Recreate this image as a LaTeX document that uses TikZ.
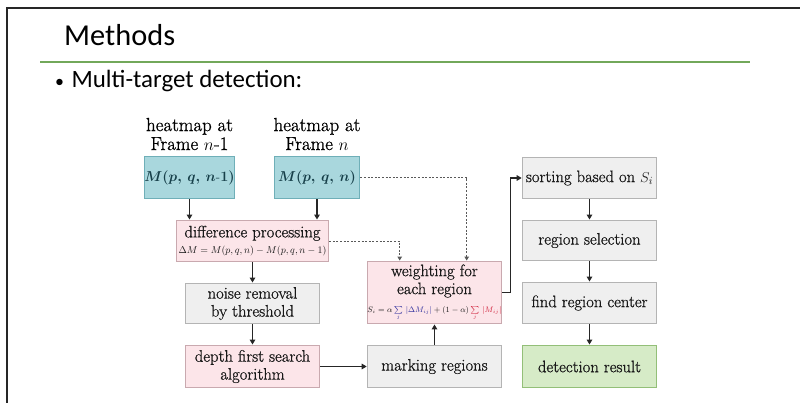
\documentclass[tikz,border=0pt]{standalone}
\usepackage{fontspec}
\usepackage{amsmath}
\newfontfamily\slidefont{Carlito}
\newfontfamily\boxfont{Latin Modern Roman}[FakeBold=0.8]
\usetikzlibrary{arrows.meta,calc}
\definecolor{tealfill}{HTML}{A9D7DD}
\definecolor{tealline}{HTML}{6FAFB8}
\definecolor{tealtext}{HTML}{17404A}
\definecolor{pinkfill}{HTML}{FCE5E9}
\definecolor{pinkline}{HTML}{C9A9AF}
\definecolor{grayfill}{HTML}{EFEFEF}
\definecolor{grayline}{HTML}{B4B4B4}
\definecolor{greenfill}{HTML}{D6EBC7}
\definecolor{greenline}{HTML}{93BF78}
\definecolor{rulegreen}{HTML}{72A85A}
\definecolor{boxtext}{HTML}{181818}
\definecolor{sumblue}{HTML}{2C2C9C}
\definecolor{sumred}{HTML}{D0203A}
\tikzset{
  basebox/.style={draw, line width=1.1bp, inner sep=0pt, align=center,
    text=boxtext, font=\boxfont\fontsize{16.7}{18}\selectfont},
  heatbox/.style={basebox, fill=tealfill, draw=tealline, text=tealtext,
    font=\fontsize{13.3}{16}\selectfont\boldmath},
  pinkbox/.style={basebox, fill=pinkfill, draw=pinkline},
  graybox/.style={basebox, fill=grayfill, draw=grayline},
  greenbox/.style={basebox, fill=greenfill, draw=greenline},
  heatlabel/.style={align=center, inner sep=0pt, text=black,
    font=\boxfont\fontsize{19}{19}\selectfont},
  flow/.style={line width=1.6bp, draw=black!85,
    -{Triangle[length=5bp,width=5.5bp]}},
  hint/.style={line width=1bp, draw=black!65, dash pattern=on 2bp off 1.6bp,
    -{Triangle[length=4bp,width=4.5bp]}}
}
\begin{document}
\begin{tikzpicture}[x=1bp,y=-1bp]
  \useasboundingbox (0,0) rectangle (800,403);
  \fill[white] (0,0) rectangle (800,403);
  % slide frame (top and left edges)
  \draw[line width=1.5bp, black!85] (800,8) -- (7,8) -- (7,403);
  % slide heading
  \node[anchor=base west, inner sep=0pt, font=\slidefont\fontsize{30.5}{32}\selectfont]
    (title) at (64,45) {Methods};
  \draw[line width=2.2bp, rulegreen] (40,62) -- (750,62);
  \node[anchor=base west, inner sep=0pt, font=\slidefont\fontsize{25}{27}\selectfont]
    (bullet) at (55,87) {{\fontsize{18}{18}\selectfont•}\hspace{0.3em}Multi-target detection:};

  % input heatmaps
  \node[heatlabel, anchor=base] (labA) at (189.5,150) {heatmap at\\Frame $n$-1};
  \node[heatlabel, anchor=base] (labB) at (317,150) {heatmap at\\Frame $n$};
  \node[heatbox, minimum width=85, minimum height=43] (mA) at (189.5,177.5)
    {$M(p,\,q,\,n$-$1)$};
  \node[heatbox, minimum width=86, minimum height=43] (mB) at (317,177.5)
    {$M(p,\,q,\,n)$};

  % left column
  \node[pinkbox, minimum width=153, minimum height=42] (diff) at (252.5,241)
    {difference processing\\[-1.5pt]
     {\fontsize{9.9}{10}\selectfont $\Delta M = M(p,q,n) - M(p,q,n-1)$}};
  \node[graybox, minimum width=135, minimum height=41] (noise) at (252.5,303.5)
    {noise removal\\by threshold};
  \node[pinkbox, minimum width=135, minimum height=43] (dfs) at (252.5,366.5)
    {depth first search\\algorithm};

  % middle column
  \node[graybox, minimum width=135, minimum height=43] (mark) at (434.5,366.5)
    {marking regions};
  \node[pinkbox, minimum width=135, minimum height=63] (weight) at (434.5,292.5)
    {weighting for\\each region\\[0pt]
     {\fontsize{7.6}{8}\selectfont
      $S_i = \alpha\,{\color{sumblue}\sum\limits_{j}\,|\Delta M_{ij}|}
       + (1-\alpha)\,{\color{sumred}\sum\limits_{j}\,|M_{ij}|}$}};

  % right column
  \node[graybox, minimum width=135, minimum height=42] (sort) at (589.5,178)
    {sorting based on {\fontsize{15}{18}\selectfont$S_i$}};
  \node[graybox, minimum width=135, minimum height=41] (sel) at (589.5,240.5)
    {region selection};
  \node[graybox, minimum width=135, minimum height=42] (cent) at (589.5,303)
    {find region center};
  \node[greenbox, minimum width=135, minimum height=43] (det) at (589.5,366.5)
    {detection result};

  % helper points for the dotted feeds into the weighting box
  \coordinate (wInA) at ($(weight.north west)+(33,0)$);
  \coordinate (wInB) at ($(weight.north west)+(100,0)$);
  \coordinate (bend) at ($(weight.east)+(8,0)$);

  % solid flow
  \draw[flow] (mA.south) -- (mA.south |- diff.north);
  \draw[flow] (mB.south) -- (mB.south |- diff.north);
  \draw[flow] (diff) -- (noise);
  \draw[flow] (noise) -- (dfs);
  \draw[flow] (dfs) -- (mark);
  \draw[flow] (mark) -- (weight);
  \draw[flow] (weight.east) -- (bend) |- (sort.west);
  \draw[flow] (sort) -- (sel);
  \draw[flow] (sel) -- (cent);
  \draw[flow] (cent) -- (det);

  % dotted feeds
  \draw[hint] (mB.east) -| (wInB);
  \draw[hint] (diff.east) -| (wInA);
\end{tikzpicture}
\end{document}
